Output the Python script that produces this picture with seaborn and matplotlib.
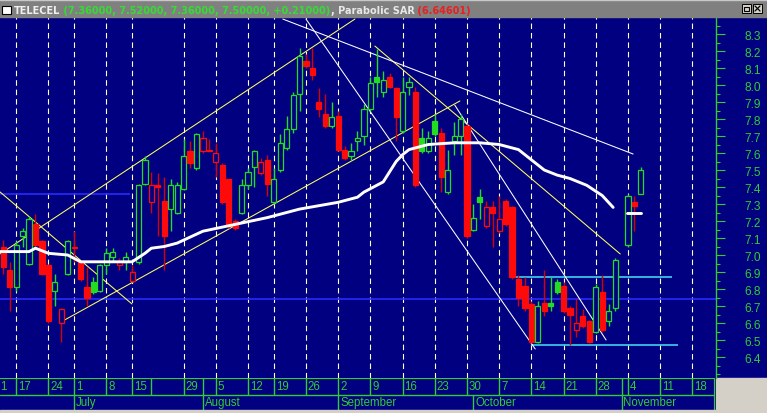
import numpy as np
import pandas as pd
import matplotlib
matplotlib.use("Agg")
import matplotlib.pyplot as plt
from matplotlib.patches import Rectangle
import seaborn as sns

# ---------------- data ----------------
opens = [7.05, 6.91, 6.81, 7.11, 6.95, 7.18, 7.08, 6.94, 6.79, 6.60,
         6.89, 7.04, 6.96, 6.81, 6.84, 6.79, 6.94, 6.99, 6.94, 6.96,
         6.85, 6.96, 7.42, 7.31, 7.41, 7.32, 7.27, 7.25, 7.39, 7.61,
         7.51, 7.61, 7.62, 7.55, 7.53, 7.45, 7.20, 7.25, 7.41, 7.52,
         7.48, 7.56, 7.31, 7.50, 7.63, 7.74, 7.95, 8.14, 8.10, 7.90,
         7.83, 7.76, 7.82, 7.62, 7.58, 7.67, 7.70, 7.86, 8.05, 7.96,
         8.05, 7.98, 7.73, 7.99, 7.96, 7.69, 7.61, 7.79, 7.72, 7.37,
         7.67, 7.70, 7.76, 7.15, 7.34, 7.17, 7.28, 7.14, 7.32, 7.28,
         6.86, 6.82, 6.71, 6.49, 6.72, 6.72, 6.84, 6.82, 6.69, 6.56,
         6.64, 6.61, 6.55, 6.78, 6.61, 6.69, np.nan, 7.06, 7.31, 7.36]
highs = [7.09, 6.96, 7.08, 7.16, 7.23, 7.24, 7.09, 6.95, 6.89, 6.69,
         7.09, 7.14, 6.97, 6.93, 6.87, 6.95, 7.04, 7.04, 6.98, 7.02,
         6.94, 7.42, 7.58, 7.49, 7.48, 7.46, 7.45, 7.43, 7.68, 7.67,
         7.72, 7.73, 7.68, 7.66, 7.54, 7.45, 7.21, 7.45, 7.51, 7.62,
         7.57, 7.59, 7.51, 7.71, 7.82, 7.96, 8.22, 8.18, 8.22, 7.98,
         7.95, 7.90, 7.85, 7.64, 7.66, 7.73, 7.89, 8.05, 8.21, 8.08,
         8.07, 7.99, 8.05, 8.05, 7.99, 7.75, 7.73, 7.83, 7.75, 7.62,
         7.78, 7.83, 7.77, 7.30, 7.39, 7.32, 7.32, 7.35, 7.33, 7.29,
         6.88, 6.87, 6.73, 6.73, 6.91, 6.87, 6.86, 6.84, 6.70, 6.74,
         6.68, 6.62, 6.83, 6.88, 6.71, 6.98, np.nan, 7.36, 7.35, 7.52]
lows = [6.89, 6.67, 6.79, 7.05, 6.94, 7.05, 6.88, 6.60, 6.70, 6.49,
        6.88, 6.96, 6.85, 6.70, 6.77, 6.78, 6.89, 6.96, 6.91, 6.91,
        6.84, 6.95, 7.41, 7.25, 7.11, 6.91, 7.14, 7.24, 7.38, 7.51,
        7.50, 7.60, 7.61, 7.46, 7.30, 7.16, 7.15, 7.24, 7.39, 7.40,
        7.47, 7.35, 7.30, 7.49, 7.62, 7.72, 7.85, 8.10, 8.03, 7.81,
        7.75, 7.75, 7.61, 7.56, 7.56, 7.61, 7.65, 7.85, 7.93, 7.93,
        7.98, 7.67, 7.72, 7.94, 7.40, 7.60, 7.60, 7.70, 7.37, 7.36,
        7.59, 7.59, 7.10, 7.14, 7.21, 7.16, 7.05, 7.13, 7.17, 6.86,
        6.70, 6.67, 6.48, 6.48, 6.64, 6.67, 6.77, 6.66, 6.47, 6.52,
        6.57, 6.48, 6.54, 6.55, 6.58, 6.67, np.nan, 7.05, 7.14, 7.36]
closes = [6.93, 6.81, 7.06, 7.14, 7.21, 7.06, 6.89, 6.61, 6.84, 6.68,
          7.08, 7.05, 6.86, 6.75, 6.78, 6.94, 7.01, 7.02, 6.96, 6.99,
          6.90, 7.41, 7.56, 7.41, 7.40, 7.11, 7.41, 7.41, 7.58, 7.54,
          7.71, 7.69, 7.61, 7.60, 7.31, 7.17, 7.16, 7.41, 7.49, 7.61,
          7.55, 7.42, 7.45, 7.66, 7.74, 7.94, 8.17, 8.11, 8.06, 7.86,
          7.76, 7.81, 7.62, 7.57, 7.61, 7.69, 7.86, 8.01, 8.02, 8.03,
          7.99, 7.81, 7.96, 8.02, 7.41, 7.61, 7.69, 7.71, 7.46, 7.50,
          7.70, 7.80, 7.11, 7.22, 7.31, 7.28, 7.25, 7.21, 7.18, 6.87,
          6.75, 6.69, 6.49, 6.70, 6.67, 6.70, 6.78, 6.67, 6.65, 6.60,
          6.58, 6.49, 6.81, 6.56, 6.67, 6.97, np.nan, 7.35, 7.29, 7.50]

# moving average (day index, price)
ma_day = [-0.5, 4, 5, 7, 10, 12, 15, 18, 20, 22, 23, 25, 27, 31, 36, 41, 46, 52,
          55, 56, 59, 60, 61, 62, 63, 66, 70, 74, 77, 80, 82, 84, 86, 88,
          90.6, 93, 94.7]
ma_val = [7.02, 7.02, 7.04, 7.01, 7.00, 6.96, 6.96, 6.96, 6.96, 7.01, 7.04, 7.05,
          7.07, 7.14, 7.18, 7.22, 7.27, 7.31, 7.34, 7.37, 7.43, 7.49, 7.55, 7.59,
          7.62, 7.65, 7.66, 7.66, 7.65, 7.62, 7.56, 7.50, 7.47, 7.45, 7.41, 7.35,
          7.28]
ma_next_day = [96.9, 99.1]
ma_next_val = [7.25, 7.25]

# drawn trend lines (x0, p0, x1, p1)
yellow_x0 = [-0.51, 8.96, -0.51, 57.7]
yellow_p0 = [7.006, 6.606, 7.371, 8.229]
yellow_x1 = [54.6, 70.9, 19.98, 95.8]
yellow_p1 = [8.388, 7.906, 6.712, 7.006]
white_x0 = [43.4, 47.0, 70.1]
white_p0 = [8.388, 8.388, 7.882]
white_x1 = [97.8, 82.6, 93.6]
white_p1 = [7.594, 6.447, 6.500]
cyan_x0 = [78.8, 81.9]
cyan_x1 = [103.8, 104.8]
cyan_p = [6.87, 6.47]
blue_x0 = [-0.51, -0.51]
blue_x1 = [19.7, 110.7]
blue_p = [7.36, 6.74]

# calendar axis
week_idx = [2, 7, 11, 16, 20, 28, 33, 38, 42, 47, 52, 57, 62, 67, 72, 77, 82, 87, 92, 97, 102, 107]
week_lbl = ['17', '24', '1', '8', '15', '29', '5', '12', '19', '26', '2', '9', '16', '23',
            '30', '7', '14', '21', '28', '4', '11', '18']
extra_sep_idx = [23, 31, 96]
month_idx = [11, 31, 52, 73, 96]
month_lbl = ['July', 'August', 'September', 'October', 'November']
first_lbl = '1'

ticker = 'TELECEL'
last_values = '(7.36000, 7.52000, 7.36000, 7.50000, +0.21000)'
ind_name = 'Parabolic SAR'
ind_value = '(6.64601)'

# ---------------- style ----------------
sns.set_theme(style='dark')
plt.rcParams['font.family'] = ['DejaVu Sans']
NAVY = '#000080'
GREEN = '#22dd22'
AXGREEN = '#33cc33'
RED = '#ff0a0a'
WICKRED = '#d80000'
GRAYBAR = '#808080'
PANEL = '#d4d0c8'

W, H = 767, 414
def fx(px):
    return px / W
def fy(py):
    return 1 - py / H

fig = plt.figure(figsize=(W / 100, H / 100), dpi=100)
fig.patch.set_facecolor(NAVY)

ax = fig.add_axes([0, fy(379), fx(716), (379 - 18) / H])
ax.set_facecolor(NAVY)
ax.set_xlim(-0.51, 110.67)
ax.set_ylim(6.2765, 8.40)
ax.grid(False)
for s in ['top', 'left', 'bottom']:
    ax.spines[s].set_visible(False)
ax.spines['right'].set_color(AXGREEN)
ax.spines['right'].set_linewidth(1.0)

# dashed week lines
for i in week_idx:
    ax.axvline(i, color='#ffffd8', lw=0.8, ls=(0, (5, 3.5)), zorder=1)

# horizontal blue and cyan levels
ax.hlines(blue_p, blue_x0, blue_x1, colors='#2a2aff', lw=1.2, zorder=1)
ax.hlines(cyan_p, cyan_x0, cyan_x1, colors='#40d0f0', lw=1.2, zorder=2)

# trend lines
for x0, p0, x1, p1 in zip(yellow_x0, yellow_p0, yellow_x1, yellow_p1):
    ax.plot([x0, x1], [p0, p1], color='#ffff60', lw=0.75, zorder=2)
for x0, p0, x1, p1 in zip(white_x0, white_p0, white_x1, white_p1):
    ax.plot([x0, x1], [p0, p1], color='#ffffff', lw=0.75, zorder=2)

# candles
prev = None
for i, (o, h, l, c) in enumerate(zip(opens, highs, lows, closes)):
    if np.isnan(o):
        continue
    up = (c >= prev) if prev is not None else (c >= o)
    col = GREEN if up else RED
    wcol = GREEN if up else WICKRED
    ax.vlines(i, l, h, colors=wcol, lw=1.0, zorder=3)
    filled = c < o
    bottom = min(o, c)
    height = max(abs(c - o), 0.007)
    ax.bar(i, height, bottom=bottom, width=0.8,
           facecolor=col if filled else NAVY, edgecolor=col,
           linewidth=0.9, zorder=4)
    prev = c

# moving average
sns.lineplot(x=ma_day, y=ma_val, ax=ax, color='white', lw=2.1, sort=False,
             estimator=None, zorder=5)
sns.lineplot(x=ma_next_day, y=ma_next_val, ax=ax, color='white', lw=2.1,
             sort=False, estimator=None, zorder=5)

# right price axis
ax.yaxis.tick_right()
ax.set_yticks(np.round(np.arange(6.4, 8.31, 0.1), 1))
ax.set_yticklabels([f'{v:.1f}' for v in np.arange(6.4, 8.31, 0.1)])
ax.set_yticks(np.round(np.arange(6.3, 8.41, 0.05), 2), minor=True)
ax.tick_params(axis='y', which='major', length=6.5, width=0.8, color=AXGREEN,
               labelcolor=AXGREEN, labelsize=8.6, pad=14)
ax.tick_params(axis='y', which='minor', length=3.2, width=0.8, color=AXGREEN)
for t in ax.get_yticklabels():
    t.set_family(['Liberation Sans', 'DejaVu Sans'])
ax.set_xticks([])
ax.set_xlabel('')
ax.set_ylabel('')

# ---------------- calendar strip ----------------
ax2 = fig.add_axes([0, fy(411), fx(715), (411 - 379) / H])
ax2.set_facecolor(NAVY)
ax2.set_xlim(-0.51, 110.51)
ax2.set_ylim(0, 1)
ax2.set_xticks([])
ax2.set_yticks([])
for s in ax2.spines.values():
    s.set_visible(False)
mid = 15 / 32
ax2.axhline(1.0, color=AXGREEN, lw=1.6)
ax2.axhline(mid, color=AXGREEN, lw=1.0)
ax2.axvline(110.51, color=AXGREEN, lw=1.6)
ax2.vlines(week_idx + extra_sep_idx, mid, 1.0, colors=AXGREEN, lw=1.0)
ax2.vlines(month_idx, 0, mid, colors=AXGREEN, lw=1.0)
lblfont = dict(color=AXGREEN, fontsize=8.3, family=['Liberation Sans', 'DejaVu Sans'])
for i, s in zip(week_idx, week_lbl):
    ax2.text(i + 0.3, (mid + 1) / 2, s, ha='left', va='center', **lblfont)
for i, s in zip(month_idx, month_lbl):
    ax2.text(i + 0.3, mid / 2, s, ha='left', va='center', **lblfont)
ax2.text(-0.51, (mid + 1) / 2, first_lbl, ha='left', va='center', **lblfont)

# ---------------- frame / title bar ----------------
fig.add_artist(Rectangle((fx(716), 0), 1 - fx(716), (414 - 379) / H,
                         transform=fig.transFigure, color=PANEL, zorder=0))
fig.add_artist(Rectangle((0, 0), 1, 3 / H, transform=fig.transFigure,
                         color=PANEL, zorder=10))
fig.add_artist(Rectangle((0, fy(18)), 1, 18 / H, transform=fig.transFigure,
                         color=GRAYBAR, zorder=10))
fig.add_artist(Rectangle((0, fy(1)), 1, 1 / H, transform=fig.transFigure,
                         color='#c8c8c8', zorder=11))
fig.add_artist(Rectangle((fx(2), fy(15)), 9 / W, 8 / H, transform=fig.transFigure,
                         facecolor='white', edgecolor='black', lw=0.8, zorder=11))
for bx in (742, 753):
    fig.add_artist(Rectangle((fx(bx), fy(14)), 9 / W, 9 / H, transform=fig.transFigure,
                             facecolor='#d4d0c8', edgecolor='black', lw=0.7, zorder=11))
fig.add_artist(plt.Line2D([fx(755), fx(760)], [fy(7), fy(12)], transform=fig.transFigure,
                          color='black', lw=0.9, zorder=12))
fig.add_artist(plt.Line2D([fx(755), fx(760)], [fy(12), fy(7)], transform=fig.transFigure,
                          color='black', lw=0.9, zorder=12))
fig.add_artist(Rectangle((fx(744), fy(12)), 5 / W, 4 / H, transform=fig.transFigure,
                         facecolor='none', edgecolor='black', lw=0.8, zorder=12))

renderer = fig.canvas.get_renderer()
xpos = 14
parts = [(ticker, '#f0f0f0'), (' ' + last_values, '#33dd33'),
         (', ' + ind_name, '#e8e8e8'), (' ' + ind_value, '#e82020')]
for s, col in parts:
    t = fig.text(fx(xpos), fy(11), s, color=col, fontsize=7.0, fontweight='bold',
                 ha='left', va='center', family='DejaVu Sans', zorder=12)
    bb = t.get_window_extent(renderer)
    xpos += bb.width

fig.savefig('out.png', dpi=100, facecolor=fig.get_facecolor())
